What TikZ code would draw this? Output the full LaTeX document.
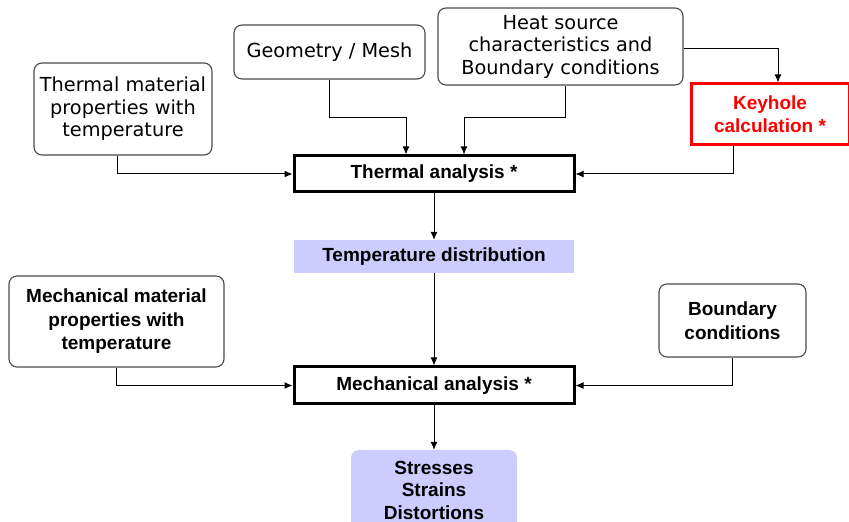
\documentclass[tikz,border=0pt]{standalone}
\usepackage{fontspec}
\setmainfont{Liberation Sans}
\newfontfamily\verdanafont{DejaVu Sans}
\usetikzlibrary{arrows.meta,positioning}
\definecolor{WfGray}{RGB}{75,75,75}
\definecolor{WfLilac}{RGB}{204,204,255}
\definecolor{WfRed}{RGB}{255,0,0}
\tikzset{
  wf/input/.style={
    draw=WfGray,
    line width=1.1pt,
    rounded corners=8pt,
    fill=white,
    align=center,
    inner sep=0pt,
    font=\verdanafont\fontsize{19.3}{22.5}\selectfont
  },
  wf/boldinput/.style={
    draw=WfGray,
    line width=1.1pt,
    rounded corners=8pt,
    fill=white,
    align=center,
    inner sep=0pt,
    font=\bfseries\fontsize{19}{23.5}\selectfont
  },
  wf/analysis/.style={
    draw=black,
    line width=3pt,
    fill=white,
    align=center,
    inner sep=0pt,
    font=\bfseries\fontsize{19}{22}\selectfont
  },
  wf/keyhole/.style={
    draw=WfRed,
    line width=3pt,
    fill=white,
    align=center,
    inner sep=0pt,
    text=WfRed,
    font=\bfseries\fontsize{19}{23}\selectfont
  },
  wf/result/.style={
    draw=none,
    fill=WfLilac,
    align=center,
    inner sep=0pt,
    font=\bfseries\fontsize{19}{22.5}\selectfont
  },
  wf/arrow/.style={-{Latex[length=8pt,width=7pt]}, line width=1pt, draw=black}
}
\begin{document}
\begin{tikzpicture}[x=1pt,y=1pt]
  \useasboundingbox[fill=white] (0,0) rectangle (849,522);
  \node[wf/input,minimum width=178pt,minimum height=92pt] (thermmat) at (123,413) {Thermal material\\properties with\\temperature};
  \node[wf/input,minimum width=191pt,minimum height=54pt] (geom) at (329.5,470) {Geometry / Mesh};
  \node[wf/input,minimum width=245pt,minimum height=77pt] (heat) at (560.5,475.5) {Heat source\\characteristics and\\Boundary conditions};
  \node[wf/keyhole,minimum width=158pt,minimum height=61pt] (keyhole) at (770,407.5) {Keyhole\\calculation *};
  \node[wf/analysis,minimum width=280pt,minimum height=36pt] (thermal) at (434,348) {Thermal analysis *};
  \node[wf/result,minimum width=280pt,minimum height=33pt] (tempdist) at (434,265.5) {Temperature distribution};
  \node[wf/boldinput,minimum width=215pt,minimum height=91pt] (mechmat) at (116.5,200.5) {Mechanical material\\properties with\\temperature};
  \node[wf/boldinput,minimum width=147pt,minimum height=73pt] (boundary) at (732.5,201.5) {Boundary\\conditions};
  \node[wf/analysis,minimum width=280pt,minimum height=37pt] (mech) at (434,136.5) {Mechanical analysis *};
  \node[wf/result,rounded corners=8pt,minimum width=166pt,minimum height=80pt] (stresses) at (434,32) {Stresses\\Strains\\Distortions};

  \draw[wf/arrow] ([xshift=-6pt]thermmat.south) |- (thermal.west);
  \draw[wf/arrow] (geom.south) -- ++(0,-38) -| ([xshift=-28pt]thermal.north);
  \draw[wf/arrow] ([xshift=4.5pt]heat.south) -- ++(0,-32) -| ([xshift=30pt]thermal.north);
  \draw[wf/arrow] ([yshift=-2.5pt]heat.east) -| ([xshift=8pt]keyhole.north);
  \draw[wf/arrow] ([xshift=-37pt]keyhole.south) |- (thermal.east);
  \draw[wf/arrow] (thermal.south) -- (tempdist.north);
  \draw[wf/arrow] (tempdist.south) -- (mech.north);
  \draw[wf/arrow] (mechmat.south) |- (mech.west);
  \draw[wf/arrow] (boundary.south) |- (mech.east);
  \draw[wf/arrow] (mech.south) -- (stresses.north);
\end{tikzpicture}
\end{document}
